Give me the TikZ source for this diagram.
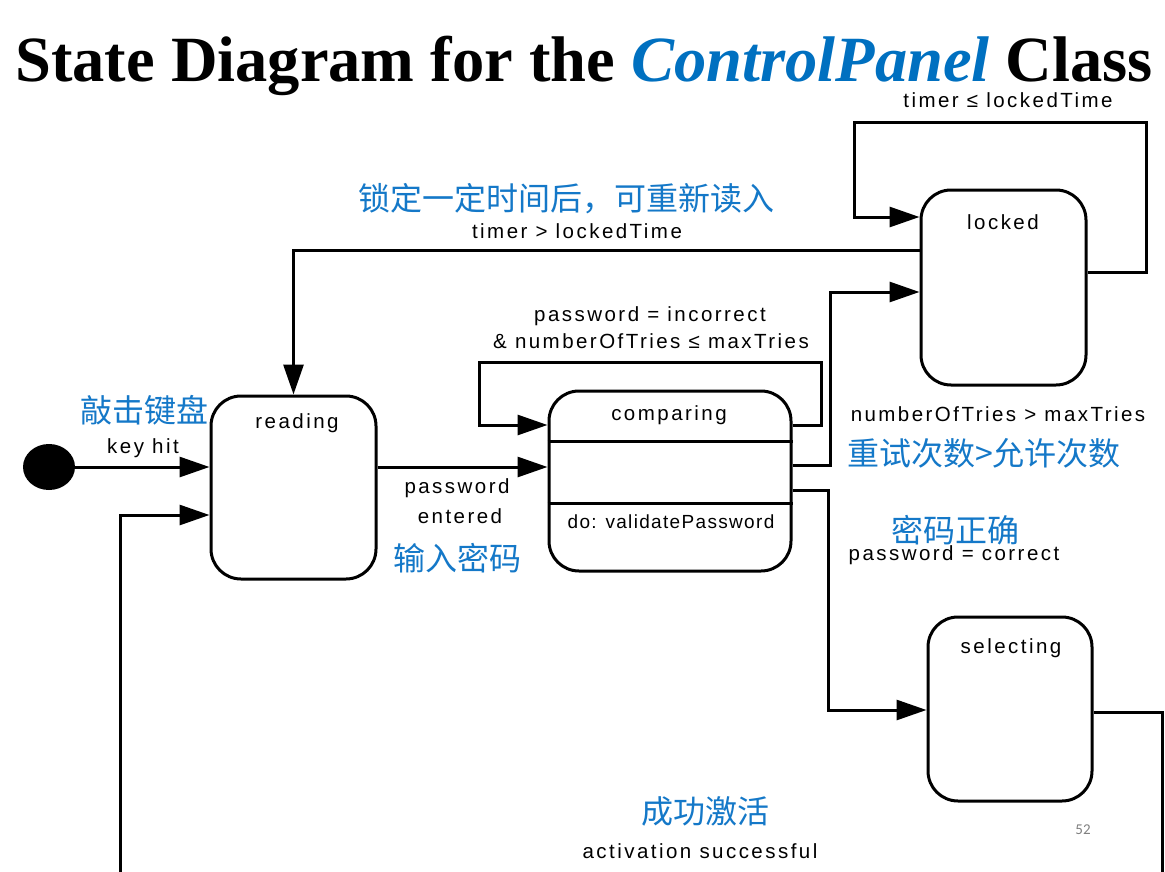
\documentclass[tikz,border=0pt]{standalone}
\usepackage{fontspec}
\usetikzlibrary{arrows.meta,shapes.geometric}
\setmainfont{Liberation Serif}
\newfontfamily\lab[LetterSpace=12]{Liberation Sans}
\newfontfamily\labnarrow[LetterSpace=7]{Liberation Sans}
\newfontfamily\cjk{Noto Sans CJK SC}
\newfontfamily\pgnum{Carlito}
\definecolor{titleblue}{RGB}{0,112,192}
\definecolor{cjkblue}{RGB}{20,120,200}
\definecolor{pggray}{RGB}{128,128,128}
\tikzset{
  statebox/.style={draw, line width=3pt, rounded corners=30pt, inner sep=0pt},
  conn/.style={line width=3pt},
  arr/.style={line width=3pt, -{Triangle[length=30pt,width=20pt]}},
  lbl/.style={anchor=base, inner sep=0pt, font=\lab\fontsize{20.5}{22}\selectfont},
  cjklbl/.style={inner sep=0pt, text=cjkblue, font=\cjk\fontsize{32}{34}\selectfont},
}
\begin{document}
\begin{tikzpicture}[x=1pt,y=-1pt]
\useasboundingbox (0,0) rectangle (1165,872);
\fill[white] (0,0) rectangle (1165,872);

% title
\node[anchor=base, inner sep=0pt, text depth=0pt, font=\fontsize{64.5}{70}\selectfont\bfseries] (title) at (584,82)
  {State Diagram for the \textcolor{titleblue}{\itshape ControlPanel} Class};

% states
\node[statebox, minimum width=165pt, minimum height=183pt] (reading) at (293.5,487.5) {};
\node[statebox, minimum width=242pt, minimum height=180pt] (comparing) at (670,481) {};
\node[statebox, minimum width=165pt, minimum height=195pt] (locked) at (1003.5,287.5) {};
\node[statebox, minimum width=164pt, minimum height=184pt] (selecting) at (1010,709) {};
\node[ellipse, fill=black, minimum width=52pt, minimum height=46pt, inner sep=0pt] (init) at (49,467) {};

% compartments of comparing
\coordinate (d1) at (0,441);
\coordinate (d2) at (0,503);
\draw[conn] (d1 -| comparing.west) -- (d1 -| comparing.east);
\draw[conn] (d2 -| comparing.west) -- (d2 -| comparing.east);

% state texts
\node[lbl] (treading) at (297,428) {reading};
\node[lbl] (tcomparing) at (669,420) {comparing};
\node[lbl, font=\labnarrow\fontsize{19}{21}\selectfont] (tdo) at (671,528) {do: validatePassword};
\node[lbl] (tlocked) at (1003,229) {locked};
\node[lbl] (tselecting) at (1011,653) {selecting};

% bend coordinates
\coordinate (cl1) at (821,425);
\coordinate (cl2) at (479,362);
\coordinate (ll1) at (1146,272);
\coordinate (ll2) at (854,123);
\coordinate (ll3) at (0,217);
\coordinate (lr1) at (0,250);
\coordinate (cx1) at (830,465);
\coordinate (cx2) at (0,292);
\coordinate (cs1) at (828,490);
\coordinate (cs2) at (0,710);
\coordinate (bl1) at (1162,712);
\coordinate (bl2) at (1162,900);
\coordinate (bl3) at (120,515);

% connectors
\draw[arr] (init.east) -- (init.east -| reading.west);
\draw[arr] (reading.east |- init.east) -- (init.east -| comparing.west);
\draw[arr] (cl1 -| comparing.east) -- (cl1) |- (cl2) |- (cl1 -| comparing.west);
\draw[arr] (cx1 -| comparing.east) -- (cx1) |- (cx2 -| locked.west);
\draw[arr] (cs1 -| comparing.east) -- (cs1) |- (cs2 -| selecting.west);
\draw[arr] (lr1 -| locked.west) -| (reading.north);
\draw[arr] (ll1 -| locked.east) -- (ll1) |- (ll2) |- (ll3 -| locked.west);
\draw[arr] (bl1 -| selecting.east) -- (bl1) -- (bl2) -| (bl3) -- (bl3 -| reading.west);

% transition labels
\node[lbl] (tkey) at (143,453) {key\ hit};
\node[cjklbl] (ckey) at (144,410) {敲击键盘};
\node[lbl] (tpw1) at (457,493) {password};
\node[lbl] (tpw2) at (460,523) {entered};
\node[cjklbl] (cpw) at (457,558) {输入密码};
\node[lbl] (tinc1) at (650,321) {password = incorrect};
\node[lbl] (tinc2) at (651,348) {\& numberOfTries ≤ maxTries};
\node[lbl] (tmax) at (998,421) {numberOfTries > maxTries};
\node[cjklbl] (cmax) at (984,453) {重试次数>允许次数};
\node[cjklbl] (ccor) at (955,530) {密码正确};
\node[lbl] (tcor) at (954,560) {password = correct};
\node[lbl] (tgt) at (577,238) {timer > lockedTime};
\node[cjklbl] (cgt) at (566,199) {锁定一定时间后，可重新读入};
\node[lbl] (tle) at (1008,108) {timer ≤ lockedTime};
\node[cjklbl] (cact) at (705,811) {成功激活};
\node[lbl] (tact) at (700,858) {activation\ successful};
\node[inner sep=0pt, text=pggray, font=\pgnum\fontsize{15}{16}\selectfont] (pg) at (1083,830) {52};
\end{tikzpicture}
\end{document}
